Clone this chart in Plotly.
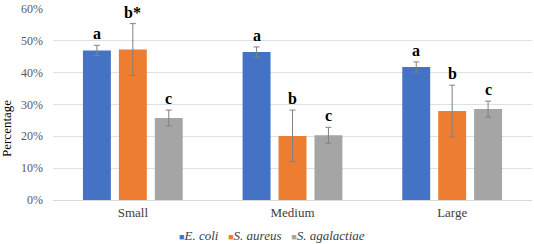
import plotly.graph_objects as go

categories = ["Small", "Medium", "Large"]
series_names = ["E. coli", "S. aureus", "S. agalactiae"]
ecoli = [46.9, 46.4, 41.7]
ecoli_err = [1.6, 1.6, 1.6]
saureus = [47.2, 20.1, 27.9]
saureus_err = [8.1, 8.1, 8.1]
sagal = [25.7, 20.3, 28.5]
sagal_err = [2.5, 2.5, 2.5]
ecoli_letters = ["a", "a", "a"]
saureus_letters = ["b*", "b", "b"]
sagal_letters = ["c", "c", "c"]
yticks = [0, 10, 20, 30, 40, 50, 60]

colors = ["#4472C4", "#ED7D31", "#A5A5A5"]
offsets = [-0.225, 0.0, 0.225]
bar_w = 0.175
serif = "Liberation Serif, Times New Roman, serif"

fig = go.Figure()
data = [(ecoli, ecoli_err, ecoli_letters), (saureus, saureus_err, saureus_letters), (sagal, sagal_err, sagal_letters)]
for k, (vals, errs, letters) in enumerate(data):
    xs = [i + offsets[k] for i in range(len(categories))]
    fig.add_trace(go.Bar(
        x=xs, y=vals, width=bar_w, name=series_names[k], showlegend=False,
        marker=dict(color=colors[k], line=dict(width=0)),
        error_y=dict(type="data", array=errs, visible=True, color="#808080", thickness=1, width=3),
    ))
    for x, v, e, t in zip(xs, vals, errs, letters):
        fig.add_annotation(x=x, y=v + e, text="<b>" + t + "</b>", showarrow=False,
                           xref="x", yref="y", yanchor="bottom", yshift=1,
                           font=dict(family=serif, size=16, color="#000000"))

# y axis title
fig.add_annotation(x=0, y=0.37, xref="paper", yref="paper", xanchor="center", yanchor="middle",
                   text="Percentage", textangle=-90, showarrow=False, xshift=-46,
                   font=dict(family=serif, size=13, color="#000000"))

# legend (drawn as text)
legend_parts = []
for name, c in zip(series_names, colors):
    legend_parts.append(f"<span style='color:{c};font-size:9px;font-style:normal'>■</span><i>{name}</i>")
fig.add_annotation(x=(272 - 53) / 479, y=(200 - 236) / 196.0, xref="paper", yref="paper", showarrow=False,
                   text="   ".join(legend_parts), xanchor="center", yanchor="middle",
                   font=dict(family=serif, size=13, color="#404040"))

fig.update_layout(
    width=534, height=244,
    margin=dict(l=53, r=2, t=4, b=44),
    paper_bgcolor="white", plot_bgcolor="white",
    barmode="overlay",
    showlegend=False,
    xaxis=dict(range=[-0.5, 2.5], tickvals=list(range(len(categories))), ticktext=categories,
               showgrid=False, zeroline=False, showline=True, linecolor="#d9d9d9", linewidth=1,
               ticks="", tickfont=dict(family=serif, size=13, color="#404040")),
    yaxis=dict(range=[0, 60.2], tickvals=yticks, ticktext=[f"{t}%" for t in yticks],
               showgrid=True, gridcolor="#e0e0e0", gridwidth=1, zeroline=False,
               ticks="", ticklabelstandoff=9, ticklabeloverflow="allow",
               tickfont=dict(family=serif, size=12, color="#595959")),
)
fig.write_html("out.html", config={"displayModeBar": False},
               post_script="document.body.style.margin='0';document.body.style.overflow='hidden';")
